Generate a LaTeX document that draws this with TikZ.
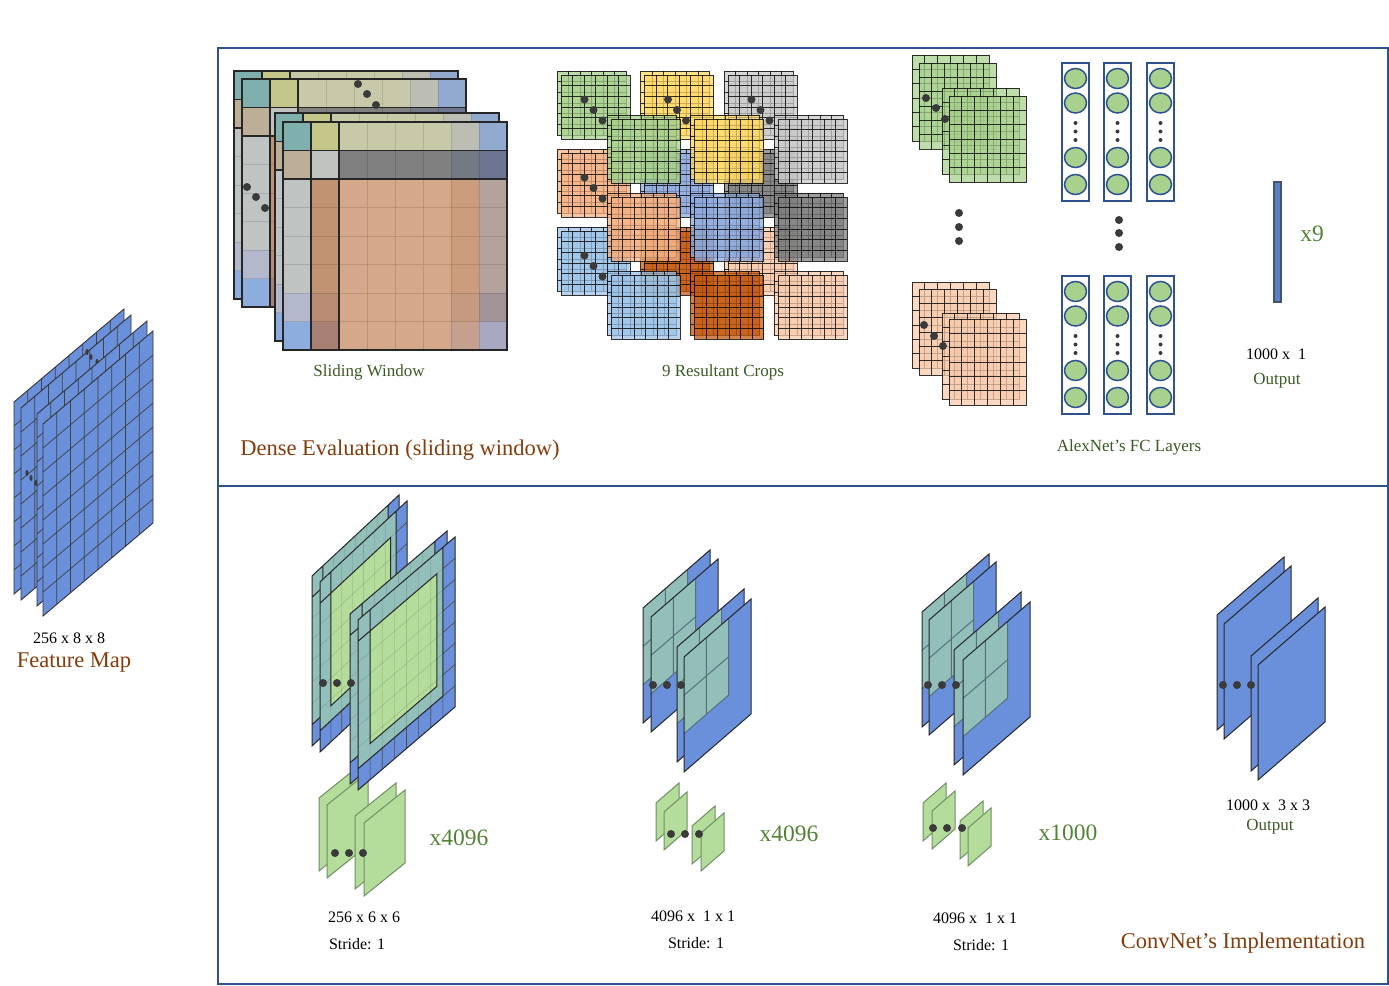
\documentclass[tikz,border=0pt]{standalone}
\usepackage{fontspec}
\setmainfont{Liberation Serif}

\definecolor{frameblue}{HTML}{2F528F}
\definecolor{mapblue}{HTML}{6A8FDB}
\definecolor{barblue}{HTML}{5B80CB}
\definecolor{bardark}{HTML}{44546A}
\definecolor{tealmix}{HTML}{93BFBA}
\definecolor{tealline}{HTML}{56707A}
\definecolor{leaf}{HTML}{B4DC9B}
\definecolor{leafline}{HTML}{6F8F62}
\definecolor{neuron}{HTML}{A9D18E}
\definecolor{rust}{HTML}{843C0C}
\definecolor{moss}{HTML}{548235}
\definecolor{mossdark}{HTML}{3A5A25}
\definecolor{dotgray}{HTML}{3A3A3A}
\definecolor{cgreen}{HTML}{A9D18E}
\definecolor{cyellow}{HTML}{FFD966}
\definecolor{cgray}{HTML}{C9C9C9}
\definecolor{corange}{HTML}{F4B183}
\definecolor{cblue}{HTML}{8FAADC}
\definecolor{cdark}{HTML}{7F7F7F}
\definecolor{csky}{HTML}{9DC3E6}
\definecolor{crust}{HTML}{C55A11}
\definecolor{cpeach}{HTML}{F8CBAD}
\definecolor{swa}{HTML}{7FB0AE}
\definecolor{swb}{HTML}{C5C68A}
\definecolor{swc}{HTML}{C8C9A9}
\definecolor{swd}{HTML}{BCBDB3}
\definecolor{swe}{HTML}{92A9D0}
\definecolor{swf}{HTML}{BCAE97}
\definecolor{swg}{HTML}{C0C3C0}
\definecolor{swh}{HTML}{808080}
\definecolor{swi}{HTML}{737A84}
\definecolor{swj}{HTML}{6E7592}
\definecolor{swk}{HTML}{BFC4C3}
\definecolor{swl}{HTML}{C29373}
\definecolor{swm}{HTML}{D5A88A}
\definecolor{swn}{HTML}{CB9D7D}
\definecolor{swo}{HTML}{B4A39D}
\definecolor{swp}{HTML}{B3B8CD}
\definecolor{swq}{HTML}{B98B73}
\definecolor{swr}{HTML}{C69A80}
\definecolor{sws}{HTML}{A39498}
\definecolor{swt}{HTML}{8DADDF}
\definecolor{swu}{HTML}{A98174}
\definecolor{sww}{HTML}{C6A08F}
\definecolor{swx}{HTML}{A9A8C3}

\tikzset{
  onsheet/.style n args={4}{x={(#1/#4,-#3/#4)}, y={(0,#2/#4)}},
  frame/.style={draw=frameblue, line width=1.8pt},
  fcbox/.style={draw=frameblue, line width=1.8pt},
  unit/.style={fill=neuron, draw=frameblue, line width=1.5pt},
  outsheet/.style={fill=mapblue, draw=black!85, line width=1pt},
  filter/.style={fill=leaf, draw=leafline, line width=1pt},
  small/.style={font=\fontsize{16}{18}\selectfont},
  caption/.style={font=\fontsize{17}{20}\selectfont, text=mossdark},
  title/.style={font=\fontsize{22.5}{26}\selectfont, text=rust},
  count/.style={font=\fontsize{23.5}{26}\selectfont, text=moss},
  pics/fmsheet/.style={code={
    \begin{scope}[onsheet={110}{192}{93}{8}]
      \fill[mapblue] (0,0) -- (8,0) -- (8,8) -- (0,8) -- cycle;
      \foreach \k in {1,...,7} \draw[black!75, line width=0.7pt] (\k,0) -- (\k,8) (0,\k) -- (8,\k);
      \draw[black!80, line width=0.9pt] (0,0) -- (8,0) -- (8,8) -- (0,8) -- cycle;
    \end{scope}
  }},
  pics/swsheet/.style={code={
    \begin{scope}[onsheet={224}{228}{0}{8}]
      \foreach \ua/\va/\ub/\vb/\c in {0/0/1/1/swa, 1/0/2/1/swb, 2/0/6/1/swc, 6/0/7/1/swd, 7/0/8/1/swe,
        0/1/1/2/swf, 1/1/2/2/swg, 2/1/6/2/swh, 6/1/7/2/swi, 7/1/8/2/swj,
        0/2/1/6/swk, 1/2/2/6/swl, 2/2/6/8/swm, 6/2/7/6/swn, 7/2/8/6/swo,
        0/6/1/7/swp, 1/6/2/7/swq, 6/6/7/7/swr, 7/6/8/7/sws,
        0/7/1/8/swt, 1/7/2/8/swu, 6/7/7/8/sww, 7/7/8/8/swx}
        \fill[\c] (\ua,\va) rectangle (\ub,\vb);
      \foreach \k in {1,...,7} \draw[black, opacity=0.12, line width=0.8pt] (\k,0) -- (\k,8) (0,\k) -- (8,\k);
      \draw[black!85, line width=1.6pt] (0,0) rectangle (8,8) (1,0) -- (1,8) (2,0) -- (2,8) (0,1) -- (8,1) (0,2) -- (8,2);
    \end{scope}
  }},
  pics/cropsheet/.style n args={3}{code={
    \begin{scope}[onsheet={#1}{#2}{0}{6}]
      \fill[#3, fill opacity=0.75] (0,0) rectangle (6,6);
      \foreach \k in {1,...,5} \draw[black, opacity=0.8, line width=0.9pt] (\k,0) -- (\k,6) (0,\k) -- (6,\k);
      \draw[black, opacity=0.8, line width=1pt] (0,0) rectangle (6,6);
    \end{scope}
  }},
  pics/convsheet/.style 2 args={code={
    \begin{scope}[onsheet={#1}{170}{#2}{8}]
      \fill[mapblue] (0,0) -- (8,0) -- (8,8) -- (0,8) -- cycle;
      \foreach \k in {1,...,7} \draw[black!70, line width=0.6pt] (\k,0) -- (\k,8) (0,\k) -- (8,\k);
      \fill[tealmix] (0,0) -- (7,0) -- (7,7) -- (0,7) -- cycle;
      \fill[leaf] (1,1) -- (6.5,1) -- (6.5,6.3) -- (1,6.3) -- cycle;
      \foreach \k in {1,...,6} \draw[black, opacity=0.13, line width=0.6pt] (\k,0) -- (\k,7) (0,\k) -- (7,\k);
      \draw[black!85, line width=1pt] (0,0) -- (8,0) -- (8,8) -- (0,8) -- cycle
        (7,0) -- (7,7) -- (0,7) (1,0) -- (1,6.3) -- (6.5,6.3) -- (6.5,1) -- (0,1);
    \end{scope}
  }},
  pics/fcsheet/.style={code={
    \begin{scope}[onsheet={67}{115}{58}{3}]
      \fill[mapblue] (0,0) -- (3,0) -- (3,3) -- (0,3) -- cycle;
      \fill[tealmix] (0,0) -- (2,0) -- (2,2) -- (0,2) -- cycle;
      \draw[tealline, line width=1pt] (1,0) -- (1,2) (0,1) -- (2,1) (2,0) -- (2,2) -- (0,2);
      \draw[black!85, line width=1pt] (0,0) -- (3,0) -- (3,3) -- (0,3) -- cycle;
    \end{scope}
  }},
  pics/flatsheet/.style n args={4}{code={
    \path[#4] (0,0) -- (#1,-#3) -- (#1,#2-#3) -- (0,#2) -- cycle;
  }}
}

\begin{document}
\begin{tikzpicture}[x=1pt, y=-1pt]
  \useasboundingbox (0,0) rectangle (1389,985);

  \pic at (14,402) {fmsheet};
  \pic at (21,408) {fmsheet};
  \foreach \p in {(87,352),(91,357),(97,362),(27,473),(31,478),(36,483)}
    \fill[dotgray] \p ellipse [x radius=1.6pt, y radius=3pt];
  \pic at (37,414) {fmsheet};
  \pic at (43,424) {fmsheet};
  \node[small] (fmsize) at (69,638) {256 x 8 x 8};
  \node[title] (fmname) at (74,663) {Feature Map};

  \draw[frame] (218,48) rectangle (1388,486);
  \draw[frame] (218,486) rectangle (1388,984);

  \pic at (234,71) {swsheet};
  \pic at (242,79) {swsheet};
  \foreach \p in {(358,84),(367,94),(376,105),(247,187),(256,197),(265,208)}
    \fill[dotgray] \p circle [radius=4pt];
  \pic at (275,113) {swsheet};
  \pic at (283,122) {swsheet};
  \node[caption] (swname) at (369,372) {Sliding Window};

  \foreach \c [count=\i from 0] in {cgreen,cyellow,cgray,corange,cblue,cdark,csky,crust,cpeach} {
    \pgfmathsetmacro\cx{557+83.5*mod(\i,3)}
    \pgfmathsetmacro\cy{71+78*floor(\i/3)}
    \pic at (\cx,\cy) {cropsheet={69}{64}{\c}};
    \pic at (\cx+4,\cy+4) {cropsheet={69}{64}{\c}};
  }
  \foreach \c [count=\i from 0] in {cgreen,cyellow,cgray,corange,cblue,cdark,csky,crust,cpeach} {
    \pgfmathsetmacro\cx{607+83.5*mod(\i,3)}
    \pgfmathsetmacro\cy{115+78*floor(\i/3)}
    \pic at (\cx,\cy) {cropsheet={69}{64}{\c}};
    \pic at (\cx+4,\cy+4) {cropsheet={69}{64}{\c}};
  }
  \foreach \i in {0,1,2,3,6} {
    \pgfmathsetmacro\cx{557+83.5*mod(\i,3)+27.5}
    \pgfmathsetmacro\cy{71+78*floor(\i/3)+28.5}
    \foreach \d in {0,1,2}
      \fill[dotgray] (\cx+9*\d,\cy+10.5*\d) circle [radius=4pt];
  }
  \node[caption] (cropname) at (723,372) {9 Resultant Crops};

  \pic at (912,55) {cropsheet={77}{86}{cgreen}};
  \pic at (919,63) {cropsheet={77}{86}{cgreen}};
  \pic at (942,88) {cropsheet={77}{86}{cgreen}};
  \pic at (949,96) {cropsheet={77}{86}{cgreen}};
  \pic at (912,282) {cropsheet={77}{86}{cpeach}};
  \pic at (919,289) {cropsheet={77}{86}{cpeach}};
  \pic at (942,313) {cropsheet={77}{86}{cpeach}};
  \pic at (949,319) {cropsheet={77}{86}{cpeach}};
  \foreach \p in {(926,98),(936,108),(945,119),(924,325),(934,336),(943,346),(959,213),(959,227),(959,241),(1119,220),(1119,233),(1119,247)}
    \fill[dotgray] \p circle [radius=4pt];

  \foreach \bx in {1062,1104,1147}
    \foreach \by in {63,276} {
      \draw[fcbox] (\bx,\by) rectangle +(27,138);
      \foreach \dy in {15.5,40,94.5,121.5}
        \draw[unit] (\bx+13.5,\by+\dy) ellipse [x radius=11pt, y radius=10pt];
      \foreach \dy in {60,68.5,77}
        \fill[dotgray] (\bx+13.5,\by+\dy) circle [radius=2pt];
    }
  \node[caption] (fcname) at (1129,447) {AlexNet’s FC Layers};

  \draw[fill=barblue, draw=bardark, line width=1.5pt] (1274,182) rectangle (1281,302);
  \node[count] (ninetimes) at (1312,234) {x9};
  \node[small] (vecsize) at (1276,354) {1000 x~ 1};
  \node[caption] (vecname) at (1277,381) {Output};
  \node[title] (densename) at (400,450) {Dense Evaluation (sliding window)};

  % bottom: convolutional version
  \foreach \p in {(319,798),(327,805),(355,816),(364,823)}
    \pic at \p {flatsheet={41}{73}{33}{filter}};
  \pic at (312,576) {convsheet={87}{81}};
  \pic at (320,582) {convsheet={87}{81}};
  \pic at (350,614) {convsheet={97}{83}};
  \pic at (358,620) {convsheet={97}{83}};
  \node[count] (convacount) at (459,838) {x4096};
  \node[small] (convasize) at (364,917) {256 x 6 x 6};
  \node[small] (convastride) at (357,944) {Stride: 1};

  \foreach \p in {(656,803),(664,812),(692,826),(701,833)}
    \pic at \p {flatsheet={23}{38}{20}{filter}};
  \foreach \p in {(643,608),(651,617),(677,647),(684,657)}
    \pic at \p {fcsheet};
  \node[count] (convbcount) at (789,834) {x4096};
  \node[small] (convbsize) at (693,916) {4096 x~ 1 x 1};
  \node[small] (convbstride) at (696,943) {Stride: 1};

  \foreach \p in {(923,803),(932,811),(960,821),(968,828)}
    \pic at \p {flatsheet={23}{38}{20}{filter}};
  \foreach \p in {(922,612),(929,620),(954,650),(963,660)}
    \pic at \p {fcsheet};
  \node[count] (convccount) at (1068,833) {x1000};
  \node[small] (convcsize) at (975,918) {4096 x~ 1 x 1};
  \node[small] (convcstride) at (981,945) {Stride: 1};

  \foreach \p in {(1217,615),(1224,624),(1251,656),(1258,665)}
    \pic at \p {flatsheet={67}{115}{58}{outsheet}};
  \node[small] (mapsize) at (1268,805) {1000 x~ 3 x 3};
  \node[caption] (mapname) at (1270,827) {Output};

  \foreach \p in {(323,683),(337,683),(351,683),(335,853),(349,853),(363,853),
                  (653,685),(667,685),(681,685),(671,834),(685,834),(699,834),
                  (928,685),(942,685),(956,685),(933,828),(947,828),(962,828),
                  (1223,685),(1237,685),(1251,685)}
    \fill[dotgray] \p circle [radius=4pt];
  \node[title] (convname) at (1243,943) {ConvNet’s Implementation};
\end{tikzpicture}
\end{document}
